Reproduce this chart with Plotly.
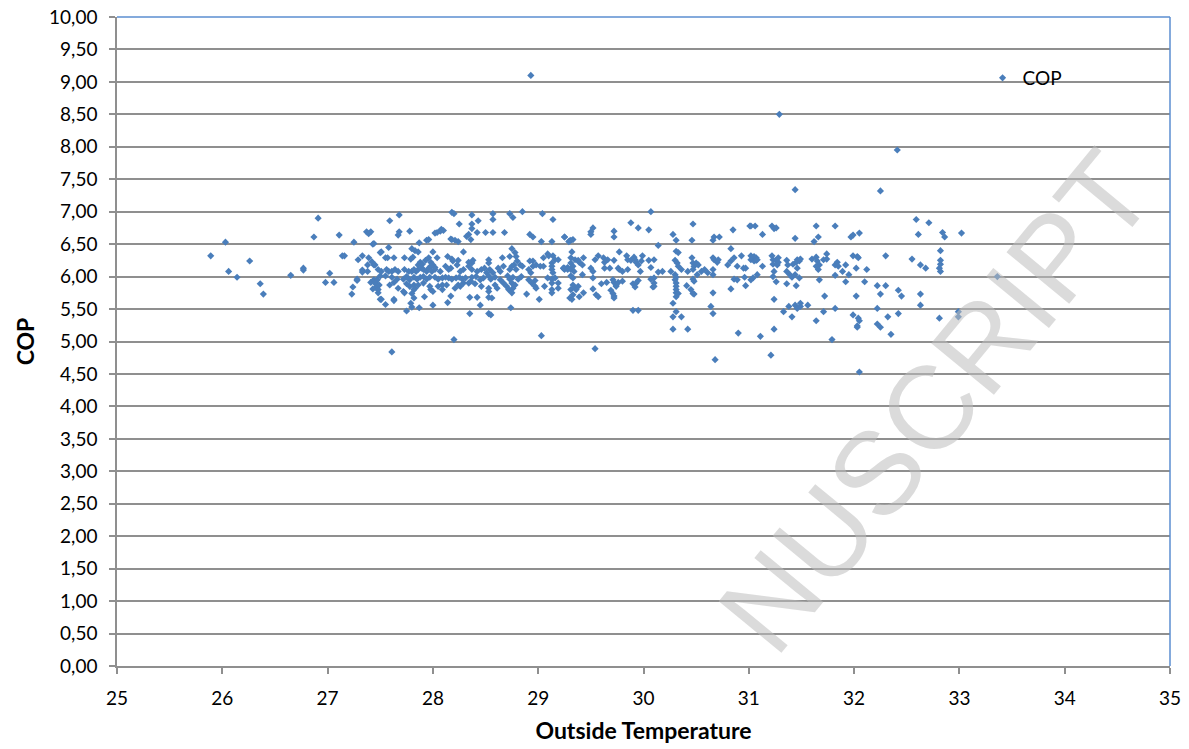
import plotly.graph_objects as go

# Outside temperature (°C) vs COP, grouped by temperature band
band_25_27 = [
    (25.89, 6.32), (26.03, 6.53), (26.06, 6.08), (26.14, 5.99), (26.26, 6.24), (26.36, 5.89),
    (26.39, 5.73), (26.65, 6.02), (26.77, 6.13), (26.77, 6.10), (26.91, 6.90), (26.87, 6.61),
    (26.98, 5.91), (27.02, 6.05), (27.06, 5.91), (27.11, 6.64), (27.14, 6.32), (27.16, 6.32),
    (27.25, 6.53), (27.23, 5.73), (27.24, 5.84), (27.28, 5.96), (27.28, 5.94), (27.29, 6.26),
    (27.33, 6.32), (27.37, 6.69), (27.39, 6.66), (27.41, 6.69), (27.43, 6.50), (27.39, 6.29),
    (27.42, 6.23), (27.44, 6.18), (27.38, 6.18), (27.33, 6.10), (27.33, 6.07), (27.38, 6.08),
    (27.50, 6.37), (27.41, 5.91), (27.44, 5.95), (27.47, 5.95), (27.43, 5.81), (27.46, 5.83),
    (27.48, 5.86), (27.48, 5.75), (27.50, 5.65), (27.50, 6.01),
]

band_27_29 = [
    (27.68, 6.95), (28.18, 6.99), (28.20, 6.97), (28.37, 6.95), (28.57, 6.97), (28.73, 6.97),
    (28.85, 7.00), (29.04, 6.97), (28.76, 6.91), (28.57, 6.88), (29.14, 6.88), (27.59, 6.86),
    (28.25, 6.81), (28.37, 6.81), (28.43, 6.86), (28.08, 6.73), (28.07, 6.70), (28.10, 6.71),
    (28.04, 6.68), (28.02, 6.67), (27.68, 6.69), (27.67, 6.64), (27.78, 6.70), (28.37, 6.74),
    (28.34, 6.65), (28.36, 6.57), (28.32, 6.62), (28.17, 6.58), (28.18, 6.57), (28.21, 6.56),
    (28.24, 6.54), (28.42, 6.68), (28.50, 6.68), (28.57, 6.68), (28.68, 6.68), (28.92, 6.65),
    (28.95, 6.61), (29.25, 6.61), (29.30, 6.55), (27.44, 6.51), (27.87, 6.52), (27.94, 6.56),
    (27.96, 6.57), (29.03, 6.54), (29.13, 6.54), (28.75, 6.43), (28.78, 6.37), (27.58, 6.45),
    (27.51, 6.38), (27.80, 6.43), (27.83, 6.40), (27.86, 6.38), (28.00, 6.38), (27.93, 6.25),
    (27.96, 6.29), (28.04, 6.29), (28.14, 6.31), (28.18, 6.27), (28.24, 6.25), (28.29, 6.38),
    (28.38, 6.25), (28.37, 6.21), (28.34, 6.22), (28.53, 6.26), (28.53, 6.21), (28.66, 6.29),
    (28.73, 6.31), (28.79, 6.31), (28.80, 6.24), (28.85, 6.16), (28.92, 6.24), (28.95, 6.24),
    (29.09, 6.35), (29.10, 6.32), (29.14, 6.32), (29.16, 6.26), (29.19, 6.26), (29.05, 6.29),
    (27.55, 6.29), (27.57, 6.29), (27.63, 6.29), (27.73, 6.29), (27.79, 6.27), (27.81, 6.30),
    (27.86, 6.18), (27.88, 6.22), (27.90, 6.19), (27.98, 6.22), (28.00, 6.18), (28.02, 6.14),
    (27.45, 6.18), (27.48, 6.11), (27.51, 6.08), (27.56, 6.11), (27.58, 6.08), (27.61, 6.08),
    (27.64, 6.11), (27.67, 6.08), (27.73, 6.11), (27.77, 6.08), (27.80, 6.08), (27.82, 6.11),
    (27.84, 6.08), (27.86, 6.11), (27.89, 6.13), (27.91, 6.11), (27.94, 6.08), (27.96, 6.13),
    (27.98, 6.16), (27.99, 6.08), (28.02, 6.11), (28.07, 6.08), (28.12, 6.16), (28.15, 6.11),
    (28.17, 6.13), (28.19, 6.24), (28.23, 6.18), (28.26, 6.08), (28.29, 6.11), (28.34, 6.16),
    (28.37, 6.11), (28.42, 6.08), (28.46, 6.11), (28.49, 6.13), (28.51, 6.06), (28.54, 6.11),
    (28.57, 6.06), (28.62, 6.13), (28.64, 6.08), (28.67, 6.16), (28.73, 6.11), (28.75, 6.16),
    (28.77, 6.18), (28.79, 6.11), (28.83, 6.18), (28.91, 6.11), (28.93, 6.06), (28.95, 6.16),
    (28.98, 6.18), (29.02, 6.16), (29.05, 6.16), (29.13, 6.21), (29.13, 6.16), (29.13, 6.11),
    (29.14, 6.06), (29.24, 6.13), (29.25, 6.11), (29.28, 6.13),
    (27.47, 5.95), (27.55, 6.01), (27.61, 5.99), (27.66, 5.96), (27.72, 5.96), (27.75, 6.00),
    (27.78, 5.95), (27.82, 5.99), (27.85, 5.96), (27.88, 5.99), (27.91, 6.00), (27.94, 5.96),
    (27.97, 5.99), (28.02, 5.99), (28.05, 5.96), (28.09, 5.98), (28.12, 5.99), (28.15, 5.98),
    (28.18, 5.96), (28.22, 5.98), (28.25, 5.99), (28.28, 5.96), (28.31, 5.98), (28.37, 5.99),
    (28.41, 6.00), (28.45, 5.95), (28.48, 5.98), (28.53, 6.01), (28.55, 5.96), (28.59, 5.99),
    (28.64, 5.95), (28.71, 6.01), (28.73, 5.96), (28.76, 5.99), (28.81, 5.96), (28.84, 6.00),
    (28.91, 5.95), (28.97, 5.94), (29.09, 5.98), (29.13, 5.96), (29.16, 5.98),
    (27.45, 5.90), (27.49, 5.87), (27.48, 5.80), (27.59, 5.87), (27.63, 5.91), (27.67, 5.82),
    (27.73, 5.75), (27.75, 5.89), (27.78, 5.85), (27.82, 5.87), (27.82, 5.80), (27.83, 5.82),
    (27.86, 5.87), (27.91, 5.90), (27.97, 5.85), (27.98, 5.80), (28.00, 5.77), (28.05, 5.85),
    (28.09, 5.87), (28.09, 5.80), (28.13, 5.87), (28.21, 5.82), (28.24, 5.87), (28.26, 5.85),
    (28.29, 5.90), (28.34, 5.90), (28.36, 5.93), (28.40, 5.89), (28.46, 5.85), (28.53, 5.82),
    (28.53, 5.77), (28.59, 5.87), (28.61, 5.82), (28.67, 5.90), (28.70, 5.85), (28.72, 5.80),
    (28.75, 5.90), (28.76, 5.82), (28.78, 5.87), (28.94, 5.90), (28.97, 5.85), (28.98, 5.82),
    (29.06, 5.85), (29.13, 5.90), (29.13, 5.80), (29.19, 5.82), (29.19, 5.90),
    (27.51, 5.65), (27.55, 5.57), (27.63, 5.65), (27.63, 5.63), (27.72, 5.77), (27.80, 5.74),
    (27.82, 5.67), (27.79, 5.59), (27.80, 5.53), (27.87, 5.52), (27.75, 5.47), (27.92, 5.69),
    (28.00, 5.56), (28.17, 5.70), (28.14, 5.60), (28.35, 5.68), (28.42, 5.68), (28.45, 5.56),
    (28.53, 5.68), (28.56, 5.67), (28.75, 5.75), (28.74, 5.52), (28.89, 5.73), (29.01, 5.65),
    (29.13, 5.75), (29.30, 5.67),
    (28.35, 5.43), (28.53, 5.43), (28.55, 5.41), (28.20, 5.03), (29.03, 5.09), (27.61, 4.84),
    (28.93, 9.10),
]

band_29_31 = [
    (30.07, 7.00), (29.25, 6.61), (29.29, 6.54), (29.31, 6.56), (29.33, 6.57), (29.52, 6.75),
    (29.50, 6.69), (29.50, 6.65), (29.72, 6.70), (29.72, 6.61), (29.88, 6.83), (29.95, 6.75),
    (30.05, 6.72), (30.14, 6.48), (30.28, 6.65), (30.31, 6.56), (30.47, 6.81), (30.46, 6.56),
    (30.66, 6.56), (30.67, 6.61), (30.72, 6.61), (30.85, 6.72), (31.01, 6.78),
    (29.32, 6.38), (29.31, 6.29), (29.35, 6.26), (29.38, 6.25), (29.39, 6.22), (29.43, 6.29),
    (29.42, 6.18), (29.28, 6.14), (29.25, 6.13), (29.24, 6.13), (29.28, 6.11), (29.31, 6.11),
    (29.34, 6.08), (29.33, 6.16), (29.31, 6.21), (29.50, 6.13), (29.52, 6.08), (29.54, 6.26),
    (29.57, 6.32), (29.62, 6.29), (29.63, 6.22), (29.63, 6.13), (29.68, 6.13), (29.66, 6.26),
    (29.72, 6.25), (29.76, 6.13), (29.77, 6.11), (29.80, 6.08), (29.77, 6.38), (29.84, 6.32),
    (29.85, 6.26), (29.88, 6.25), (29.85, 6.11), (29.91, 6.30), (29.92, 6.26), (29.93, 6.22),
    (29.95, 6.18), (29.98, 6.24), (29.99, 6.32), (29.97, 6.08), (30.05, 6.25), (30.07, 6.14),
    (30.10, 6.26), (30.14, 6.07), (30.18, 6.08), (30.26, 6.08), (30.30, 6.25), (30.32, 6.21),
    (30.33, 6.16), (30.36, 6.11), (30.31, 6.39), (30.33, 6.37), (30.46, 6.29), (30.47, 6.21),
    (30.47, 6.11), (30.48, 6.16), (30.50, 6.21), (30.52, 6.18), (30.42, 6.08), (30.55, 6.08),
    (30.58, 6.11), (30.61, 6.06), (30.66, 6.29), (30.67, 6.26), (30.71, 6.26), (30.70, 6.22),
    (30.66, 6.11), (30.80, 6.18), (30.83, 6.24), (30.86, 6.29), (30.89, 6.16), (30.93, 6.32),
    (30.95, 6.13), (30.97, 6.13), (30.83, 6.43),
    (29.31, 6.01), (29.33, 5.98), (29.42, 6.03), (29.52, 5.98), (29.60, 5.89), (29.65, 5.91),
    (29.71, 5.95), (29.72, 5.91), (29.74, 5.87), (29.76, 5.91), (29.80, 5.93), (29.90, 5.89),
    (29.93, 5.90), (29.95, 5.94), (30.07, 5.96), (30.10, 5.98), (30.10, 5.90), (30.09, 5.84),
    (30.30, 6.03), (30.31, 5.99), (30.30, 5.95), (30.31, 5.90), (30.31, 5.85), (30.41, 5.86),
    (30.51, 6.03), (30.47, 5.96), (30.48, 5.93), (30.66, 6.03), (30.86, 5.96), (30.89, 5.95),
    (30.96, 5.99), (30.97, 5.86),
    (29.33, 5.87), (29.35, 5.82), (29.31, 5.80), (29.36, 5.80), (29.38, 5.85), (29.33, 5.72),
    (29.32, 5.65), (29.39, 5.69), (29.43, 5.75), (29.52, 5.81), (29.55, 5.72), (29.57, 5.69),
    (29.69, 5.79), (29.71, 5.74), (29.72, 5.70), (29.72, 5.67), (29.74, 5.85), (29.92, 5.84),
    (30.10, 5.85), (30.31, 5.80), (30.31, 5.75), (30.31, 5.69), (30.33, 5.74), (30.45, 5.80),
    (30.47, 5.74), (30.48, 5.73), (30.66, 5.75), (30.83, 5.81),
    (29.90, 5.48), (29.95, 5.48), (30.28, 5.59), (30.31, 5.46), (30.28, 5.38), (30.36, 5.38),
    (30.64, 5.54), (30.66, 5.43), (30.28, 5.19), (30.42, 5.19), (30.90, 5.13), (29.54, 4.89),
    (30.68, 4.72),
]

band_31_34 = [
    (31.02, 6.78), (31.06, 6.78), (31.22, 6.78), (31.24, 6.74), (31.26, 6.75), (31.13, 6.65),
    (31.44, 6.59), (31.64, 6.78), (31.66, 6.61), (31.62, 6.54), (31.82, 6.78), (31.97, 6.61),
    (31.99, 6.64), (32.05, 6.67), (32.59, 6.88), (32.71, 6.83), (32.61, 6.65), (32.84, 6.68),
    (32.86, 6.61), (33.02, 6.67), (31.44, 7.34), (32.25, 7.32), (31.29, 8.50), (32.41, 7.95),
    (31.02, 6.32), (31.04, 6.29), (31.05, 6.31), (31.07, 6.29), (31.02, 6.26), (31.05, 6.24),
    (31.07, 6.25), (31.08, 6.26), (31.22, 6.32), (31.23, 6.26), (31.26, 6.25), (31.28, 6.29),
    (31.23, 6.19), (31.27, 6.18), (31.28, 6.22), (31.13, 6.16), (31.36, 6.25), (31.37, 6.18),
    (31.42, 6.19), (31.46, 6.26), (31.48, 6.24), (31.49, 6.27), (31.46, 6.13), (31.45, 6.22),
    (31.60, 6.27), (31.64, 6.30), (31.65, 6.24), (31.67, 6.18), (31.64, 6.16), (31.66, 6.11),
    (31.71, 6.26), (31.74, 6.27), (31.74, 6.35), (31.82, 6.18), (31.84, 6.22), (31.85, 6.16),
    (31.89, 6.08), (31.92, 6.18), (31.99, 6.32), (32.03, 6.31), (32.04, 6.29), (32.02, 6.13),
    (32.12, 6.11), (32.30, 6.32), (32.55, 6.27), (32.63, 6.18), (32.68, 6.13), (32.82, 6.40),
    (32.82, 6.25), (32.82, 6.19), (32.81, 6.13), (32.82, 6.08),
    (31.02, 5.95), (31.04, 5.98), (31.08, 6.03), (31.23, 6.00), (31.24, 6.08), (31.26, 5.92),
    (31.36, 6.08), (31.36, 5.89), (31.39, 6.03), (31.41, 5.99), (31.44, 6.03), (31.48, 5.98),
    (31.45, 5.86), (31.67, 5.95), (31.82, 6.02), (31.92, 5.92), (31.95, 6.03), (32.10, 5.92),
    (32.22, 5.86), (32.30, 5.86), (33.36, 6.00),
    (31.24, 5.65), (31.33, 5.46), (31.38, 5.54), (31.41, 5.38), (31.44, 5.56), (31.46, 5.51),
    (31.49, 5.59), (31.49, 5.54), (31.56, 5.56), (31.72, 5.70), (31.71, 5.46), (31.82, 5.51),
    (31.64, 5.32), (31.99, 5.41), (32.02, 5.70), (32.04, 5.36), (32.05, 5.32), (32.03, 5.24),
    (32.03, 5.22), (32.22, 5.51), (32.22, 5.27), (32.25, 5.73), (32.25, 5.22), (32.32, 5.38),
    (32.35, 5.11), (32.42, 5.79), (32.45, 5.70), (32.42, 5.43), (32.63, 5.73), (32.63, 5.56),
    (32.81, 5.36), (32.99, 5.46), (32.99, 5.38),
    (31.11, 5.08), (31.24, 5.19), (31.79, 5.03), (31.21, 4.79), (32.05, 4.53),
]

x_ticks = [25, 26, 27, 28, 29, 30, 31, 32, 33, 34, 35]
y_ticks = [i * 0.5 for i in range(21)]

points = band_25_27 + band_27_29 + band_29_31 + band_31_34
outside_temperature = [p[0] for p in points]
cop = [p[1] for p in points]

FONT = "Lato"
GRID = "#8f8f8f"
BLUE = "#4A7EBB"

fig = go.Figure()
fig.add_trace(go.Scatter(
    x=outside_temperature, y=cop, mode="markers", name="COP",
    marker=dict(symbol="diamond", size=5.5, color=BLUE, line=dict(width=0)),
))

fig.update_layout(
    width=1189, height=749,
    margin=dict(l=117, r=19, t=17, b=83, autoexpand=False),
    paper_bgcolor="white", plot_bgcolor="white",
    separators=",.",
    font=dict(family=FONT, size=19, color="#000000"),
    showlegend=True,
    legend=dict(x=0.822, y=0.906, xanchor="left", yanchor="middle",
                bgcolor="rgba(0,0,0,0)", font=dict(size=19, family=FONT),
                itemwidth=30, tracegroupgap=0),
    xaxis=dict(
        range=[25, 35], tickvals=x_ticks, ticktext=[str(v) for v in x_ticks],
        showgrid=False, zeroline=False, automargin=False,
        showline=True, linecolor=GRID, linewidth=1.5,
        ticks="outside", ticklen=6, tickcolor=GRID, tickwidth=1.5,
        ticklabelstandoff=8,
        tickfont=dict(size=19, family=FONT),
        title=dict(text="<b>Outside Temperature</b>", font=dict(size=23, family=FONT), standoff=15),
    ),
    yaxis=dict(
        range=[0, 10], tickvals=y_ticks, tickformat=".2f",
        showgrid=True, gridcolor=GRID, gridwidth=1.5, zeroline=False, automargin=False,
        showline=True, linecolor=GRID, linewidth=1.5,
        ticks="outside", ticklen=6, tickcolor=GRID, tickwidth=1.5,
        ticklabelstandoff=8,
        tickfont=dict(size=19, family=FONT),
        title=dict(text="<b>COP</b>", font=dict(size=23, family=FONT), standoff=8),
    ),
    shapes=[
        dict(type="line", xref="paper", yref="paper", x0=0, x1=1, y0=1, y1=1,
             line=dict(color="#5B8ED0", width=1.5), layer="above"),
        dict(type="line", xref="paper", yref="paper", x0=1, x1=1, y0=0, y1=1,
             line=dict(color="#5B8ED0", width=1.5), layer="above"),
    ],
    annotations=[
        dict(text="NUSCRIPT", xref="paper", yref="paper",
             x=(935 - 117) / 1053, y=(666 - 402) / 649,
             xanchor="center", yanchor="middle",
             showarrow=False, textangle=-50.5,
             font=dict(family="Liberation Sans", size=118, color="rgba(190,190,190,0.55)")),
    ],
)

fig.write_html("out.html", config={"displayModeBar": False},
               post_script="document.body.style.margin='0px';")
